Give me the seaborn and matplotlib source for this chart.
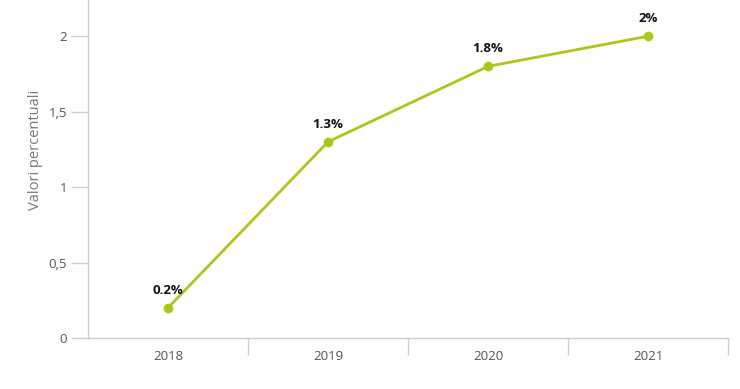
import matplotlib
matplotlib.use("Agg")
import matplotlib.pyplot as plt
import seaborn as sns
import pandas as pd
from matplotlib.ticker import FixedLocator

years = ["2018", "2019", "2020", "2021"]
values = [0.2, 1.3, 1.8, 2.0]
labels = ["0.2%", "1.3%", "1.8%", "2%"]
yticks = [0, 0.5, 1, 1.5, 2]
ytick_labels = ["0", "0,5", "1", "1,5", "2"]

sns.set_theme(style="white")
plt.rcParams["font.family"] = ["Open Sans", "DejaVu Sans"]

df = pd.DataFrame({"anno": years, "valore": values})

fig = plt.figure(figsize=(7.4, 3.89), dpi=100)
ax = fig.add_axes([88 / 740, 51 / 389, 640 / 740, 338 / 389])

green = "#a8c91c"
sns.lineplot(data=df, x="anno", y="valore", ax=ax, color=green, linewidth=2,
             marker="o", markersize=7, markeredgewidth=0, sort=False)

for i, (v, t) in enumerate(zip(values, labels)):
    ax.annotate(t, (i, v), xytext=(0, 8), textcoords="offset points",
                ha="center", va="bottom", fontsize=9.5, fontweight="bold", color="#111111")

ax.set_xlim(-0.5, 3.5)
ax.set_ylim(0, 2.24)

ax.set_yticks(yticks)
ax.set_yticklabels(ytick_labels)
ax.set_xticks(range(len(years)))
ax.set_xticklabels(years)
ax.xaxis.set_minor_locator(FixedLocator([0.5, 1.5, 2.5, 3.5]))

spine_c = "#cfcfc8"
for s in ["top", "right"]:
    ax.spines[s].set_visible(False)
for s in ["left", "bottom"]:
    ax.spines[s].set_color(spine_c)
    ax.spines[s].set_linewidth(1)

ax.tick_params(axis="y", which="major", length=12, width=1, color=spine_c,
               labelsize=9.5, labelcolor="#555555", pad=3, left=True)
ax.tick_params(axis="x", which="major", length=0, labelsize=9.5,
               labelcolor="#555555", pad=9, bottom=True)
ax.tick_params(axis="x", which="minor", length=12, width=1, color=spine_c, bottom=True)

ax.set_xlabel("")
ax.set_ylabel("Valori percentuali", fontsize=10.5, color="#777777")
ax.yaxis.set_label_coords(-0.071, 0.556)
ax.grid(False)

fig.savefig("out.png", dpi=100)
